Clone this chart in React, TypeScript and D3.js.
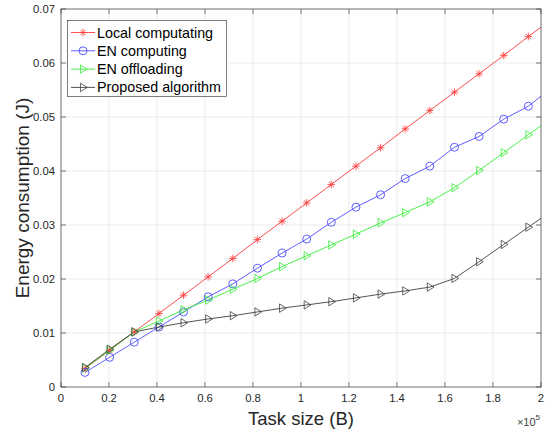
import React from "react";
import * as d3 from "d3";

const taskSize = [0.1, 0.2026, 0.3053, 0.4079, 0.5105, 0.6132, 0.7158, 0.8184, 0.9211, 1.0237, 1.1263, 1.2289, 1.3316, 1.4342, 1.5368, 1.6395, 1.7421, 1.8447, 1.9474, 2.05];
const localComputing = [0.0034, 0.0068, 0.0102, 0.0136, 0.0170, 0.0204, 0.0238, 0.0273, 0.0307, 0.0341, 0.0375, 0.0409, 0.0443, 0.0478, 0.0512, 0.0546, 0.0580, 0.0614, 0.0649, 0.0683];
const enComputing = [0.0027, 0.0055, 0.0083, 0.0111, 0.0139, 0.0167, 0.0191, 0.0220, 0.0248, 0.0274, 0.0305, 0.0333, 0.0356, 0.0386, 0.0409, 0.0444, 0.0464, 0.0496, 0.0520, 0.0556];
const enOffloading = [0.0035, 0.0068, 0.0102, 0.0122, 0.0143, 0.0161, 0.0181, 0.0201, 0.0223, 0.0243, 0.0263, 0.0283, 0.0304, 0.0323, 0.0343, 0.0369, 0.0401, 0.0434, 0.0467, 0.0500];
const proposed = [0.0036, 0.0070, 0.0102, 0.0111, 0.0119, 0.0126, 0.0132, 0.0139, 0.0146, 0.0152, 0.0158, 0.0165, 0.0172, 0.0178, 0.0185, 0.0201, 0.0232, 0.0264, 0.0296, 0.0328];

const xTicks = [0, 0.2, 0.4, 0.6, 0.8, 1, 1.2, 1.4, 1.6, 1.8, 2];
const yTicks = [0, 0.01, 0.02, 0.03, 0.04, 0.05, 0.06, 0.07];
const seriesNames = ["Local computating", "EN computing", "EN offloading", "Proposed algorithm"];
const seriesColors = ["#ff3b3b", "#4d4dff", "#33ee33", "#404040"];
const seriesMarkers = ["star", "circle", "tri", "tri"];

const W = 550, H = 434;
const M = { left: 61, right: 541, top: 9, bottom: 387 };

function Marker({ kind, x, y, color }: { kind: string; x: number; y: number; color: string }) {
  if (kind === "circle") return <circle cx={x} cy={y} r={4} fill="none" stroke={color} strokeWidth={0.9} />;
  if (kind === "tri") {
    const s = 4.2;
    return <path d={`M${x - s * 0.6},${y - s} L${x + s},${y} L${x - s * 0.6},${y + s} Z`} fill="none" stroke={color} strokeWidth={0.8} />;
  }
  const s = 3.8, d = s * 0.707;
  return (
    <path
      d={`M${x - s},${y}L${x + s},${y}M${x},${y - s}L${x},${y + s}M${x - d},${y - d}L${x + d},${y + d}M${x - d},${y + d}L${x + d},${y - d}`}
      stroke={color}
      strokeWidth={0.8}
      fill="none"
    />
  );
}

export default function App() {
  const x = d3.scaleLinear().domain([0, 2]).range([M.left, M.right]);
  const y = d3.scaleLinear().domain([0, 0.07]).range([M.bottom, M.top]);
  const all = [localComputing, enComputing, enOffloading, proposed];
  const line = d3.line<number>().x((_, i) => x(taskSize[i])).y((v) => y(v));
  const font = "Arial, 'Liberation Sans', Helvetica, sans-serif";
  const tickCol = "#262626";
  const yMid = (M.top + M.bottom) / 2;
  return (
    <svg width={W} height={H} style={{ position: "absolute", left: 0, top: 0, background: "#fff" }} fontFamily={font}>
      <defs>
        <clipPath id="plotclip">
          <rect x={M.left} y={M.top} width={M.right - M.left} height={M.bottom - M.top} />
        </clipPath>
      </defs>
      <rect x={M.left} y={M.top} width={M.right - M.left} height={M.bottom - M.top} fill="#fff" />
      {xTicks.map((t) => (
        <line key={"gx" + t} x1={x(t)} x2={x(t)} y1={M.top} y2={M.bottom} stroke="#e6e6e6" strokeWidth={0.8} />
      ))}
      {yTicks.map((t) => (
        <line key={"gy" + t} x1={M.left} x2={M.right} y1={y(t)} y2={y(t)} stroke="#e6e6e6" strokeWidth={0.8} />
      ))}
      <g clipPath="url(#plotclip)">
        {all.map((s, si) => (
          <path key={"l" + si} d={line(s) || ""} fill="none" stroke={seriesColors[si]} strokeWidth={0.9} />
        ))}
      </g>
      {all.map((s, si) => (
        <g key={"m" + si}>
          {s.map((v, i) =>
            taskSize[i] <= 2 ? <Marker key={i} kind={seriesMarkers[si]} x={x(taskSize[i])} y={y(v)} color={seriesColors[si]} /> : null
          )}
        </g>
      ))}
      {xTicks.map((t) => (
        <g key={"tx" + t}>
          <line x1={x(t)} x2={x(t)} y1={M.bottom} y2={M.bottom - 5} stroke={tickCol} strokeWidth={0.6} />
          <line x1={x(t)} x2={x(t)} y1={M.top} y2={M.top + 5} stroke={tickCol} strokeWidth={0.6} />
          <text x={x(t)} y={M.bottom + 15} fontSize={11.3} textAnchor="middle" fill={tickCol}>{t}</text>
        </g>
      ))}
      {yTicks.map((t) => (
        <g key={"ty" + t}>
          <line x1={M.left} x2={M.left + 5} y1={y(t)} y2={y(t)} stroke={tickCol} strokeWidth={0.6} />
          <line x1={M.right} x2={M.right - 5} y1={y(t)} y2={y(t)} stroke={tickCol} strokeWidth={0.6} />
          <text x={M.left - 6} y={y(t) + 4} fontSize={11.3} textAnchor="end" fill={tickCol}>{t}</text>
        </g>
      ))}
      <rect x={M.left} y={M.top} width={M.right - M.left} height={M.bottom - M.top} fill="none" stroke="#262626" strokeWidth={0.6} />
      <text x={(M.left + M.right) / 2} y={424.5} fontSize={18.5} textAnchor="middle" fill="#262626">Task size (B)</text>
      <text x={29} y={yMid} fontSize={19} textAnchor="middle" fill="#262626" transform={`rotate(-90 29 ${yMid})`}>
        Energy consumption (J)
      </text>
      <text x={540} y={426} fontSize={11} textAnchor="end" fill="#404040">
        ×10<tspan dy={-6} fontSize={8}>5</tspan>
      </text>
      <g>
        <rect x={67.5} y={20.5} width={159} height={76} fill="#fff" stroke="#262626" strokeWidth={0.6} />
        {seriesNames.map((n, i) => {
          const ly = 32.5 + i * 18.3;
          return (
            <g key={n}>
              <line x1={71} x2={95} y1={ly} y2={ly} stroke={seriesColors[i]} strokeWidth={0.9} />
              <Marker kind={seriesMarkers[i]} x={83} y={ly} color={seriesColors[i]} />
              <text x={97} y={ly + 5} fontSize={14.3} fill="#000">{n}</text>
            </g>
          );
        })}
      </g>
    </svg>
  );
}
